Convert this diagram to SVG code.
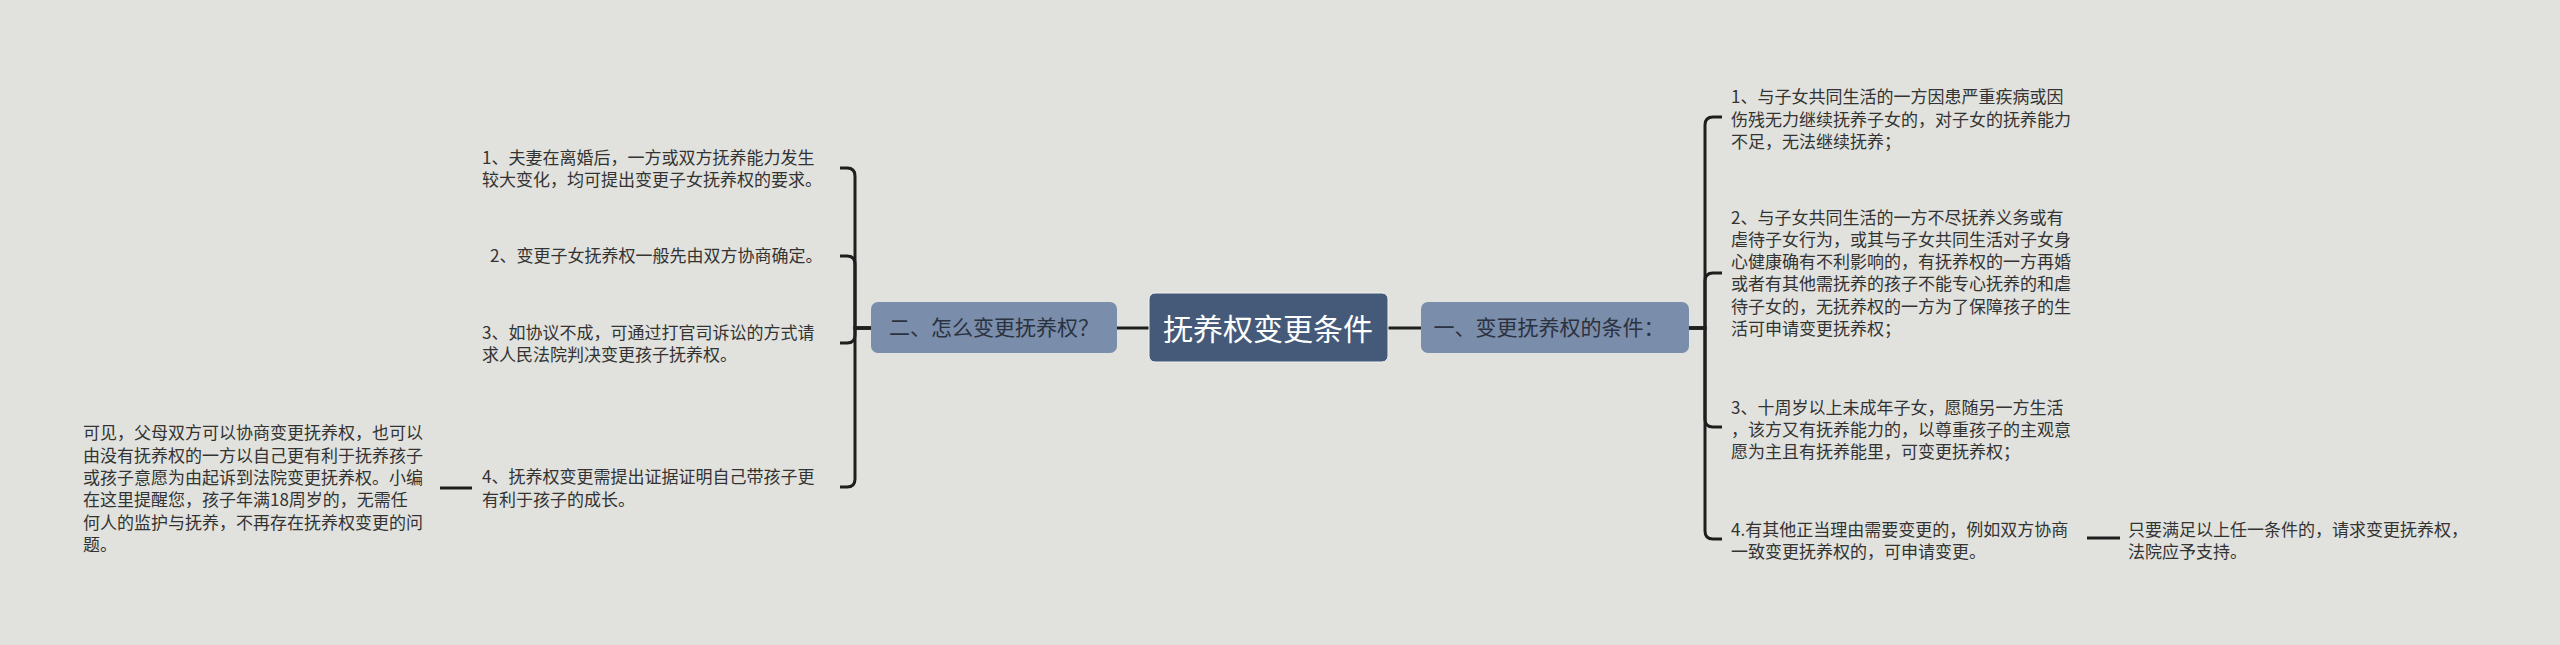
<svg xmlns="http://www.w3.org/2000/svg" width="2560" height="645" viewBox="0 0 2560 645">
<style>
.t{font-family:"Noto Sans CJK SC","Noto Sans",sans-serif;font-size:17px;fill:#333333}
.b{font-family:"Noto Sans CJK SC","Noto Sans",sans-serif;font-size:21px;fill:#2b3240}
.r{font-family:"Noto Sans CJK SC","Noto Sans",sans-serif;font-size:30px;fill:#ffffff}
.c{fill:none;stroke:#1e1e1e;stroke-width:3}
</style>
<rect width="2560" height="645" fill="#e1e2dd"/>
<g id="connectors">
<path class="c" d="M1117 328 H1149"/>
<path class="c" d="M1388 328 H1421"/>
<path class="c" d="M1689 328 H1705 V125 Q1705 117 1713 117 H1722"/>
<path class="c" d="M1689 328 H1705 V281 Q1705 273 1713 273 H1722"/>
<path class="c" d="M1689 328 H1705 V419 Q1705 427 1713 427 H1722"/>
<path class="c" d="M1689 328 H1705 V531 Q1705 539 1713 539 H1722"/>
<path class="c" d="M2087 538 H2120"/>
<path class="c" d="M871 328 H855 V176 Q855 168 847 168 H840"/>
<path class="c" d="M871 328 H855 V264 Q855 256 847 256 H840"/>
<path class="c" d="M871 328 H855 V335 Q855 343 847 343 H840"/>
<path class="c" d="M871 328 H855 V479 Q855 487 847 487 H840"/>
<path class="c" d="M472 488 H440"/>
</g>
<g id="root">
<rect x="1149" y="293" width="239" height="69" rx="6" fill="#445a78" stroke="#f2f2f2" stroke-width="1"/>
<text class="r" x="1268" y="340" text-anchor="middle">抚养权变更条件</text>
</g>
<g id="branch-right">
<rect x="1421" y="302" width="268" height="51" rx="7" fill="#7a8daa"/>
<text class="b" x="1549" y="335" text-anchor="middle">一、变更抚养权的条件：</text>
</g>
<g id="branch-left">
<rect x="871" y="302" width="246" height="51" rx="7" fill="#7a8daa"/>
<text class="b" x="994" y="335" text-anchor="middle">二、怎么变更抚养权？</text>
</g>
<g id="r1">
<text class="t"><tspan x="1731" y="103">1、与子女共同生活的一方因患严重疾病或因</tspan><tspan x="1731" y="126">伤残无力继续抚养子女的，对子女的抚养能力</tspan><tspan x="1731" y="148">不足，无法继续抚养；</tspan></text>
</g>
<g id="r2">
<text class="t"><tspan x="1731" y="224">2、与子女共同生活的一方不尽抚养义务或有</tspan><tspan x="1731" y="246">虐待子女行为，或其与子女共同生活对子女身</tspan><tspan x="1731" y="268">心健康确有不利影响的，有抚养权的一方再婚</tspan><tspan x="1731" y="290">或者有其他需抚养的孩子不能专心抚养的和虐</tspan><tspan x="1731" y="313">待子女的，无抚养权的一方为了保障孩子的生</tspan><tspan x="1731" y="335">活可申请变更抚养权；</tspan></text>
</g>
<g id="r3">
<text class="t"><tspan x="1731" y="414">3、十周岁以上未成年子女，愿随另一方生活</tspan><tspan x="1731" y="436">，该方又有抚养能力的，以尊重孩子的主观意</tspan><tspan x="1731" y="458">愿为主且有抚养能里，可变更抚养权；</tspan></text>
</g>
<g id="r4">
<text class="t"><tspan x="1731" y="536">4.有其他正当理由需要变更的，例如双方协商</tspan><tspan x="1731" y="558">一致变更抚养权的，可申请变更。</tspan></text>
</g>
<g id="r4-note">
<text class="t"><tspan x="2128" y="536">只要满足以上任一条件的，请求变更抚养权，</tspan><tspan x="2128" y="558">法院应予支持。</tspan></text>
</g>
<g id="l1">
<text class="t"><tspan x="482" y="164">1、夫妻在离婚后，一方或双方抚养能力发生</tspan><tspan x="482" y="186">较大变化，均可提出变更子女抚养权的要求。</tspan></text>
</g>
<g id="l2">
<text class="t"><tspan x="490" y="262">2、变更子女抚养权一般先由双方协商确定。</tspan></text>
</g>
<g id="l3">
<text class="t"><tspan x="482" y="339">3、如协议不成，可通过打官司诉讼的方式请</tspan><tspan x="482" y="361">求人民法院判决变更孩子抚养权。</tspan></text>
</g>
<g id="l4">
<text class="t"><tspan x="482" y="483">4、抚养权变更需提出证据证明自己带孩子更</tspan><tspan x="482" y="506">有利于孩子的成长。</tspan></text>
</g>
<g id="l4-note">
<text class="t"><tspan x="83" y="439">可见，父母双方可以协商变更抚养权，也可以</tspan><tspan x="83" y="462">由没有抚养权的一方以自己更有利于抚养孩子</tspan><tspan x="83" y="484">或孩子意愿为由起诉到法院变更抚养权。小编</tspan><tspan x="83" y="506">在这里提醒您，孩子年满18周岁的，无需任</tspan><tspan x="83" y="529">何人的监护与抚养，不再存在抚养权变更的问</tspan><tspan x="83" y="551">题。</tspan></text>
</g>
</svg>
